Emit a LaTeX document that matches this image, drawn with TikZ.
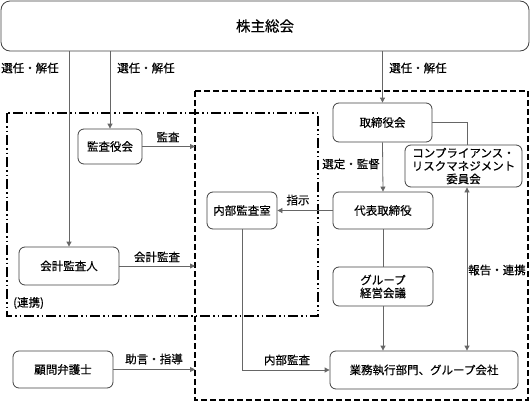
\documentclass[tikz,border=0pt]{standalone}
\usepackage{fontspec}
\setmainfont{Noto Sans CJK JP}[FakeBold=0.4]
\usetikzlibrary{arrows.meta}
\begin{document}
\begin{tikzpicture}[x=1pt,y=-1pt,
  box/.style={draw=black!75, rounded corners=6pt, line width=0.8pt, align=center, inner sep=0pt, font=\fontsize{11.5}{13}\selectfont},
  lbl/.style={font=\fontsize{11.5}{13}\selectfont, inner sep=0pt},
  conn/.style={draw=black!60, line width=0.8pt},
  tip/.tip={Triangle[length=5pt,width=5pt]},
  arr/.style={conn, -tip},
  dashbox/.style={draw=black, line width=1.3pt, dash pattern=on 6pt off 3pt},
  dotbox/.style={draw=black, line width=1.3pt, dash pattern=on 10pt off 3pt on 1.5pt off 3pt on 1.5pt off 3pt},
]
\useasboundingbox (0,0) rectangle (531,402);
% regions
\coordinate (dl) at (195,91);
\coordinate (cx) at (467,122);
\draw[dashbox] (195,91) rectangle (528,400);
\draw[dotbox] (7,113) rectangle (318,316);
% nodes
\node[box, rounded corners=9pt, minimum width=528pt, minimum height=50pt, font=\fontsize{14.5}{16}\selectfont] (top) at (265,26) {株主総会};
\node[box, minimum width=64pt, minimum height=35pt] (kansa) at (110,146.5) {監査役会};
\node[box, minimum width=100pt, minimum height=38pt] (kaikei) at (69,266) {会計監査人};
\node[box, minimum width=100pt, minimum height=37pt] (komon) at (63,369.5) {顧問弁護士};
\node[box, minimum width=70pt, minimum height=37pt] (naibu) at (242,210.5) {内部監査室};
\node[box, minimum width=99pt, minimum height=39pt] (tori) at (382.5,122.5) {取締役会};
\node[box, minimum width=117pt, minimum height=42pt] (comp) at (463.5,166) {コンプライアンス・\\リスクマネジメント\\委員会};
\node[box, minimum width=100pt, minimum height=37pt] (daihyo) at (383,210.5) {代表取締役};
\node[box, minimum width=100pt, minimum height=39pt] (group) at (383,286.5) {グループ\\経営会議};
\node[box, minimum width=188pt, minimum height=38pt] (gyomu) at (424,370) {業務執行部門、グループ会社};
% connectors
\draw[arr] (top.south -| kaikei.north) -- (kaikei.north);
\draw[arr] (top.south -| kansa.north) -- (kansa.north);
\draw[arr] (top.south -| tori.north) -- (tori.north);
\draw[arr] (kansa.east) -- (kansa.east -| dl);
\draw[arr] (kaikei.east) -- (kaikei.east -| dl);
\draw[arr] (komon.east) -- (komon.east -| dl);
\draw[arr] (tori.south) -- (daihyo.north);
\draw[arr] (daihyo.west) -- (naibu.east);
\draw[conn] (daihyo.south) -- (group.north);
\draw[arr] (group.south) -- (group.south |- gyomu.north);
\draw[arr] (naibu.south) |- (gyomu.west);
\draw[conn] (tori.east) -| (comp.north -| cx);
\draw[conn, tip-tip] (comp.south -| cx) -- (gyomu.north -| cx);
% labels
\node[lbl] (l1) at (30,68) {選任・解任};
\node[lbl] (l2) at (146,68) {選任・解任};
\node[lbl] (l3) at (418,68) {選任・解任};
\node[lbl] (l4) at (168,137) {監査};
\node[lbl] (l5) at (157,257) {会計監査};
\node[lbl, anchor=west] (l6) at (13,303) {(連携)};
\node[lbl] (l7) at (298,200) {指示};
\node[lbl] (l8) at (351,164) {選定・監督};
\node[lbl] (l9) at (497,270) {報告・連携};
\node[lbl] (l10) at (287,360) {内部監査};
\node[lbl] (l11) at (154,359) {助言・指導};
\end{tikzpicture}
\end{document}
